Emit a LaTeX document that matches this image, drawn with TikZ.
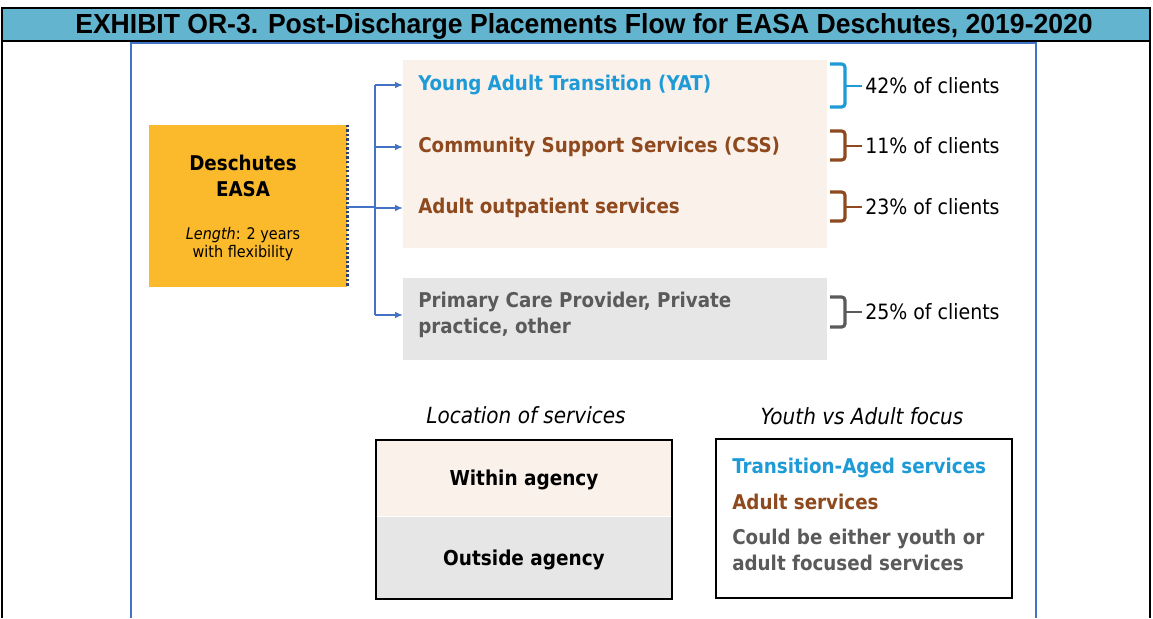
\documentclass[tikz,border=0pt]{standalone}
\usepackage{fontspec}
\usepackage{graphicx}
\setmainfont{DejaVu Sans Condensed}
\newfontfamily\titlefont{Liberation Sans}
\usetikzlibrary{arrows.meta,positioning,calc}

\definecolor{barteal}{HTML}{62B4CF}
\definecolor{frameblue}{HTML}{4472C4}
\definecolor{easaorange}{HTML}{FBBA2B}
\definecolor{dotnavy}{HTML}{2F3F6F}
\definecolor{withinbeige}{HTML}{FBF1EB}
\definecolor{outsidegray}{HTML}{E7E6E6}
\definecolor{yatblue}{HTML}{1E9BD7}
\definecolor{adultbrown}{HTML}{8E4A1E}
\definecolor{eithergray}{HTML}{5A5A5A}

\tikzset{
  flow/.style={draw=frameblue, line width=1.1pt},
  tip/.style={-{Latex[length=6pt,width=5pt]}},
  service/.style={anchor=west, inner xsep=11.25pt, inner ysep=0pt, align=left,
    font=\bfseries\fontsize{15.25}{19}\selectfont},
  share/.style={anchor=west, inner sep=0pt, font=\fontsize{15.8}{18}\selectfont},
  brace/.style={line width=2.4pt, rounded corners=2.5pt},
  plain/.style={inner sep=0pt},
  legendtext/.style={plain, anchor=west, font=\bfseries\fontsize{15.25}{18}\selectfont},
}

% bracket beside a placement: colour, top, bottom, label
\newcommand{\clientbrace}[4]{%
  \coordinate (bk) at (845,#2);
  \draw[brace,#1] (830,#2) -- (845,#2) -- (845,#3) -- (830,#3);
  \draw[line width=2.2pt,#1] (bk |- #4.west) -- ([xshift=-2pt]#4.west);
}

\begin{document}
\begin{tikzpicture}[x=0.75pt, y=-0.75pt]
\useasboundingbox (0,0) rectangle (1153,618);

% exhibit header
\fill[barteal] (1,8) rectangle (1151,41);
\draw[line width=1.5pt] (1,8) -- (1151,8);
\draw[line width=1.2pt] (1,41) -- (1151,41);
\draw[line width=2pt] (2,8) -- (2,618);
\draw[line width=1.5pt] (1150,8) -- (1150,618);
\node (title) [anchor=base, plain] at (584,33)
  {\resizebox{763pt}{15pt}{\titlefont\bfseries EXHIBIT OR-3. Post-Discharge Placements Flow for EASA Deschutes, 2019-2020}};
\draw[frameblue, line width=1.6pt] (131,618) -- (131,43) -- (1036,43) -- (1036,618);

% program box
\node (easa) [fill=easaorange, minimum width=148.5pt, minimum height=121.5pt, plain] at (248,206) {};
\draw[dotnavy, line width=2.4pt, dash pattern=on 1.8pt off 1.6pt] (easa.north east) -- (easa.south east);
\node (name) [plain, align=center, font=\bfseries\fontsize{15.25}{19}\selectfont] at (243,176) {Deschutes\\EASA};
\node (length) [plain, align=center, font=\fontsize{12}{13.5}\selectfont] at (243,244) {\textit{Length}: 2 years\\with flexibility};

% placement boxes
\node (inhouse) [fill=withinbeige, minimum width=318pt, minimum height=141pt, anchor=north west, plain] at (403,60) {};
\node (external) [fill=outsidegray, minimum width=318pt, minimum height=61.5pt, anchor=north west, plain] at (403,278) {};

\node (yat) [service, text=yatblue] at (403,85) {Young Adult Transition (YAT)};
\node (css) [service, text=adultbrown] at (403,147) {Community Support Services (CSS)};
\node (aos) [service, text=adultbrown] at (403,208) {Adult outpatient services};
\node (pcp) [service, text=eithergray] at (403,315) {Primary Care Provider, Private\\practice, other};

% arrows
\coordinate (split) at (375,207);
\draw[flow] (easa.east |- split) -- (split);
\draw[flow] (split |- yat.west) -- (split |- pcp.west);
\foreach \dest in {yat, css, aos, pcp}
  \draw[flow, tip] (split |- \dest.west) -- (\dest.west);

% shares
\node (p42) [share] at (865,86) {42\% of clients};
\node (p11) [share] at (865,146) {11\% of clients};
\node (p23) [share] at (865,207) {23\% of clients};
\node (p25) [share] at (865,312) {25\% of clients};
\clientbrace{yatblue}{64}{107}{p42}
\clientbrace{adultbrown}{131}{160}{p11}
\clientbrace{adultbrown}{192}{221}{p23}
\clientbrace{eithergray}{297}{327}{p25}

% legends
\node (lochead) [plain, font=\itshape\fontsize{16.7}{19}\selectfont] at (526,415) {Location of services};
\node (focushead) [plain, font=\itshape\fontsize{16.7}{19}\selectfont] at (862,416) {Youth vs Adult focus};

\node (within) [fill=withinbeige, minimum width=222pt, minimum height=57pt, plain, text depth=0pt,
  font=\bfseries\fontsize{15.4}{18}\selectfont] at (524,478) {Within agency};
\node (outside) [fill=outsidegray, minimum width=222pt, minimum height=61.5pt, plain, text depth=0pt, below=0pt of within,
  font=\bfseries\fontsize{15.4}{18}\selectfont] {Outside agency};
\draw[line width=1.5pt] (within.north west) rectangle (outside.south east);

\node (focus) [draw, line width=1.5pt, minimum width=222pt, minimum height=119pt, plain] at (864,518.5) {};
\node (tas) [legendtext, text=yatblue] at (732,468) {Transition-Aged services};
\node (adult) [legendtext, text=adultbrown] at (732,502) {Adult services};
\node (either) [legendtext, anchor=north west, align=left, text=eithergray, font=\bfseries\fontsize{15.25}{19}\selectfont] at (732,529) {Could be either youth or\\adult focused services};
\end{tikzpicture}
\end{document}
